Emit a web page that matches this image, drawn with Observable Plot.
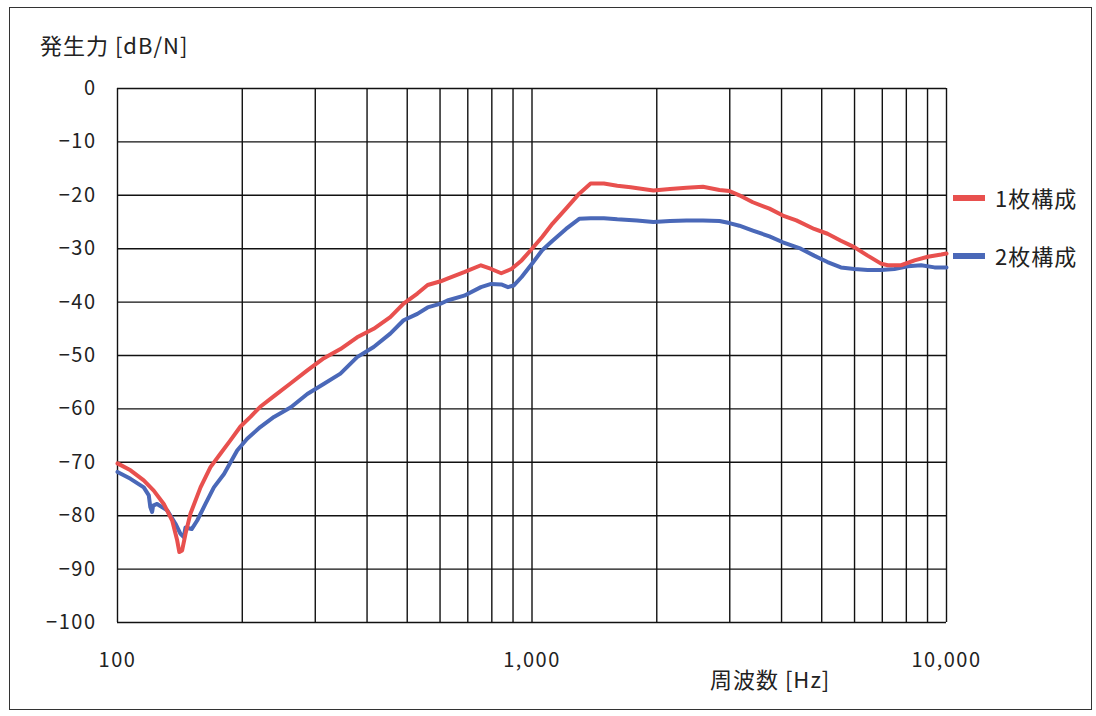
<!DOCTYPE html>
<html><head><meta charset="utf-8">
<script src="https://cdn.jsdelivr.net/npm/d3@7"></script>
<script src="https://cdn.jsdelivr.net/npm/@observablehq/plot@0.6"></script>
<style>
html,body{margin:0;padding:0;background:#fff;}
#wrap{position:relative;width:1096px;height:716px;overflow:hidden;font-family:"Noto Sans CJK JP","Noto Sans",sans-serif;color:#222;}
#wrap svg{position:absolute;left:0;top:0;}
.lbl{position:absolute;font-size:22px;letter-spacing:1px;white-space:nowrap;line-height:1;}
.sw{position:absolute;width:32px;height:6px;}
#border{position:absolute;left:9px;top:7px;width:1083px;height:703px;border:1.5px solid #333;box-sizing:border-box;}
</style></head>
<body>
<div id="wrap"><div id="border"></div></div>
<script>
const seriesNames = ["1枚構成", "2枚構成"];
const seriesColors = ["#e8504e", "#4a68b8"];
const yTitle = "発生力 [dB/N]";
const xTitle = "周波数 [Hz]";
const xTickValues = [100, 1000, 10000];
const yTickValues = [-100, -90, -80, -70, -60, -50, -40, -30, -20, -10, 0];
const xGridValues = [100,200,300,400,500,600,700,800,900,1000,2000,3000,4000,5000,6000,7000,8000,9000,10000];

const freq1 = [100,107.5,115.7,122.3,129.3,135.5,139.3,141,143.2,145.9,150,158.6,167.6,177.1,187.2,198,209.3,221,238.5,261.8,287,314.7,345,378.5,415,455,490,529,560,602,625,686,753,797,843,892,944,1000,1058,1121,1208,1300,1385,1491,1606,1730,1963,2152,2358,2585,2833,2994,3164,3410,3740,4029,4342,4794,5163,5562,5991,6453,6951,7214,7771,8370,9015,9711,10000];
const db1 = [-70.2,-71.5,-73.4,-75.3,-77.8,-80.9,-84.6,-86.8,-86.5,-83.4,-79.6,-74.7,-70.9,-68.4,-65.9,-63.3,-61.5,-59.6,-57.6,-55.2,-52.8,-50.5,-48.8,-46.6,-45.0,-42.8,-40.3,-38.4,-36.8,-36.1,-35.6,-34.4,-33.1,-33.8,-34.6,-33.8,-32.2,-30.0,-27.8,-25.3,-22.5,-19.7,-17.8,-17.8,-18.2,-18.5,-19.1,-18.8,-18.6,-18.4,-19.0,-19.2,-20.0,-21.3,-22.5,-23.8,-24.7,-26.3,-27.2,-28.5,-29.7,-31.3,-32.8,-33.1,-33.1,-32.2,-31.5,-31.1,-30.9];

const freq2 = [100,107.5,115.7,119,120,121.2,121.9,124.6,131.8,138,141.9,144.5,145.9,151,155.7,163,170.8,180.7,194.4,205.5,221,238.5,262,287,315,345,378.5,415,455,490,529,560,602,625,686,753,797,843,875,903,944,1000,1058,1121,1208,1300,1385,1491,1606,1791,1963,2152,2358,2585,2833,2994,3164,3410,3740,4029,4450,4794,5163,5562,5991,6453,6951,7487,8064,8686,9355,10000];
const db2 = [-71.8,-73.1,-74.7,-76.2,-78.4,-79.3,-78.1,-77.8,-79.0,-81.5,-83.4,-84.0,-82.2,-82.5,-80.9,-77.8,-74.7,-72.2,-67.8,-65.6,-63.4,-61.5,-59.7,-57.2,-55.3,-53.4,-50.3,-48.4,-45.9,-43.4,-42.2,-41.0,-40.3,-39.7,-38.8,-37.2,-36.6,-36.7,-37.2,-36.9,-35.3,-32.8,-30.3,-28.5,-26.3,-24.4,-24.3,-24.3,-24.5,-24.7,-25.0,-24.8,-24.7,-24.7,-24.8,-25.2,-25.7,-26.6,-27.7,-28.8,-30.0,-31.3,-32.5,-33.5,-33.8,-34.0,-34.0,-33.8,-33.3,-33.1,-33.5,-33.5];

const s1 = freq1.map((f,i)=>({f, db: db1[i], s: seriesNames[0]}));
const s2 = freq2.map((f,i)=>({f, db: db2[i], s: seriesNames[1]}));

const chart = Plot.plot({
  width: 1096, height: 716,
  marginLeft: 117, marginRight: 150, marginTop: 88, marginBottom: 94,
  style: {fontSize: "20px", letterSpacing: "1.5px", fontFamily: '"Noto Sans CJK JP","Noto Sans",sans-serif', color: "#222", background: "transparent"},
  x: {type: "log", domain: [100, 10000]},
  y: {domain: [-100, 0]},
  marks: [
    Plot.ruleX(xGridValues, {stroke: "#111", strokeWidth: 1.4}),
    Plot.ruleY(yTickValues, {stroke: "#111", strokeWidth: 1.4}),
    Plot.axisX({ticks: xTickValues, tickFormat: d3.format(","), tickSize: 0, tickPadding: 30, label: null, fill: "#222"}),
    Plot.axisY({ticks: yTickValues, tickFormat: d => d < 0 ? "\u2212" + Math.abs(d) : String(d), tickSize: 0, tickPadding: 21, label: null, fill: "#222"}),
    Plot.line(s2, {x: "f", y: "db", stroke: seriesColors[1], strokeWidth: 4, strokeLinejoin: "round"}),
    Plot.line(s1, {x: "f", y: "db", stroke: seriesColors[0], strokeWidth: 4, strokeLinejoin: "round"})
  ]
});
const wrap = document.getElementById("wrap");
wrap.appendChild(chart);

function addLabel(text, left, top) {
  const d = document.createElement("div");
  d.className = "lbl"; d.textContent = text;
  d.style.left = left + "px"; d.style.top = top + "px";
  wrap.appendChild(d);
}
addLabel(yTitle, 40, 33);
addLabel(xTitle, 710, 667);
const legendTops = [198, 256];
seriesNames.forEach((n, i) => {
  const sw = document.createElement("div");
  sw.className = "sw"; sw.style.background = seriesColors[i];
  sw.style.left = "953px"; sw.style.top = (legendTops[i] - 3) + "px";
  wrap.appendChild(sw);
  addLabel(n, 995, legendTops[i] - 12);
});
</script>
</body></html>
